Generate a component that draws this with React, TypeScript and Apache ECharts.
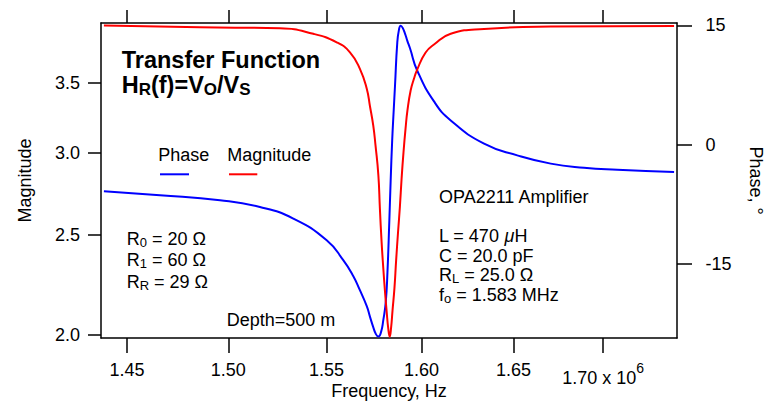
import { useEffect, useRef } from 'react';
import * as echarts from 'echarts';

// ---- data ----
const freqTicks = [1.45, 1.5, 1.55, 1.6, 1.65, 1.7]; // MHz
const magTicks = [2.0, 2.5, 3.0, 3.5];
const phaseTicks = [-15, 0, 15];

const freqMin = 1.4375;
const freqMax = 1.7426;
const magMin = 1.987;
const magMax = 4.0;
const phaseMin = -24.3;
const phaseMax = 15.3;

const magFreq = [
  1.4389, 1.4858, 1.5261, 1.5432, 1.5553, 1.5622, 1.5674, 1.571, 1.5727, 1.5744,
  1.5756, 1.5771, 1.5779, 1.5788, 1.5797, 1.5806, 1.5815, 1.5823, 1.5831, 1.5838,
  1.5846, 1.5856, 1.5865, 1.5875, 1.5885, 1.5894, 1.5904, 1.5915, 1.5925, 1.5942,
  1.596, 1.5977, 1.6022, 1.6067, 1.6157, 1.6338, 1.6706, 1.7409,
];
const magValues = [
  3.977, 3.962, 3.953, 3.905, 3.832, 3.748, 3.613, 3.456, 3.323, 3.186,
  3.048, 2.852, 2.65, 2.46, 2.32, 2.202, 2.105, 2.031, 1.993, 2.031,
  2.114, 2.22, 2.362, 2.513, 2.662, 2.833, 3.001, 3.165, 3.294, 3.443,
  3.536, 3.607, 3.746, 3.813, 3.905, 3.948, 3.968, 3.974,
];

const phaseFreq = [
  1.4389, 1.4661, 1.4958, 1.5159, 1.5329, 1.5501, 1.5587, 1.5639, 1.5674, 1.571,
  1.5727, 1.5744, 1.5758, 1.5771, 1.5785, 1.5797, 1.581, 1.5819, 1.5829, 1.5836,
  1.5844, 1.5852, 1.5859, 1.5871, 1.588, 1.5889, 1.5899, 1.5912, 1.5924, 1.5939,
  1.5977, 1.6067, 1.6157, 1.6338, 1.652, 1.6706, 1.6893, 1.7082, 1.7409,
];
const phaseValues = [
  -5.86, -6.36, -6.99, -7.83, -9.29, -12.01, -14.52, -16.5, -18.29, -20.3,
  -21.64, -22.93, -23.81, -24.12, -23.56, -22.05, -19.79, -16.02, -9.5, -4.48,
  0.54, 4.3, 7.44, 12.84, 14.47, 14.97, 14.72, 13.97, 13.09, 12.09,
  9.33, 5.44, 3.05, 0.13, -1.34, -2.38, -2.89, -3.14, -3.44,
];

const FONT = "'Liberation Sans', Arial, Helvetica, sans-serif";
const BLACK = '#000000';
const RED = '#ff0000';
const BLUE = '#0000ff';

function txt(x: number, y: number, text: string, extra: any = {}) {
  return {
    type: 'text',
    x,
    y,
    silent: true,
    style: {
      text,
      fill: BLACK,
      fontSize: 18,
      fontFamily: FONT,
      lineHeight: 20,
      align: 'left',
      verticalAlign: 'middle',
      ...extra,
    },
  };
}

const subRich = {
  s: { fontSize: 13, lineHeight: 11.5, verticalAlign: 'bottom', fontFamily: FONT, fill: BLACK },
  i: { fontSize: 18, lineHeight: 20, fontStyle: 'italic', fontFamily: FONT, fill: BLACK },
};

const titleRich = {
  s: { fontSize: 17, lineHeight: 13.8, verticalAlign: 'bottom', fontWeight: 'bold', fontFamily: FONT, fill: BLACK },
};

export default function App() {
  const ref = useRef<HTMLDivElement>(null);

  useEffect(() => {
    document.body.style.margin = '0';
    const chart = echarts.init(ref.current!, null, { renderer: 'svg' });

    const axisLine = { show: true, onZero: false, lineStyle: { color: BLACK, width: 1.5 } };
    const labelBase = { color: BLACK, fontSize: 18, fontFamily: FONT, lineHeight: 18 };

    const option: any = {
      animation: false,
      backgroundColor: '#ffffff',
      grid: { left: 101, right: 91, top: 23, bottom: 67, containLabel: false, outerBoundsMode: 'none' },
      xAxis: [
        {
          type: 'log',
          position: 'bottom',
          min: freqMin,
          max: freqMax,
          axisLine,
          axisTick: { show: true, length: 15, inside: false, lineStyle: { color: BLACK, width: 1.5 }, customValues: freqTicks },
          minorTick: { show: false },
          splitLine: { show: false },
          axisLabel: {
            ...labelBase,
            margin: 22.5,
            customValues: freqTicks,
            formatter: (v: number) =>
              Math.abs(v - 1.7) < 1e-6 ? '{g| }{m|1.70 x 10}{p|6}' : v.toFixed(2),
            rich: {
              g: { fontSize: 1, lineHeight: 26 },
              m: { fontSize: 18, lineHeight: 18, verticalAlign: 'bottom', fontFamily: FONT, color: BLACK },
              p: { fontSize: 14, lineHeight: 14, verticalAlign: 'top', fontFamily: FONT, color: BLACK },
            },
          },
          name: 'Frequency, Hz',
          nameLocation: 'middle',
          nameGap: 44,
          nameMoveOverlap: false,
          nameTextStyle: { ...labelBase },
        },
        {
          type: 'log',
          position: 'top',
          min: freqMin,
          max: freqMax,
          axisLine,
          axisTick: { show: true, length: 13, inside: false, lineStyle: { color: BLACK, width: 1.5 }, customValues: freqTicks },
          minorTick: { show: false },
          splitLine: { show: false },
          axisLabel: { show: false },
        },
      ],
      yAxis: [
        {
          type: 'log',
          position: 'left',
          min: magMin,
          max: magMax,
          axisLine,
          axisTick: { show: true, length: 13, inside: false, lineStyle: { color: BLACK, width: 1.5 }, customValues: magTicks },
          minorTick: { show: false },
          splitLine: { show: false },
          axisLabel: {
            ...labelBase,
            margin: 21,
            customValues: magTicks,
            formatter: (v: number) => v.toFixed(1),
          },
          name: 'Magnitude',
          nameLocation: 'middle',
          nameGap: 67,
          nameRotate: 90,
          nameMoveOverlap: false,
          nameTextStyle: { ...labelBase },
        },
        {
          type: 'value',
          position: 'right',
          min: phaseMin,
          max: phaseMax,
          axisLine,
          axisTick: { show: true, length: 15, inside: false, lineStyle: { color: BLACK, width: 1.5 }, customValues: phaseTicks },
          minorTick: { show: false },
          splitLine: { show: false },
          axisLabel: {
            ...labelBase,
            margin: 28.5,
            customValues: phaseTicks,
            formatter: (v: number) => String(Math.round(v)),
          },
          name: 'Phase, °',
          nameLocation: 'middle',
          nameGap: 70,
          nameRotate: -90,
          nameMoveOverlap: false,
          nameTextStyle: { ...labelBase },
        },
      ],
      series: [
        {
          type: 'line',
          name: 'Phase',
          xAxisIndex: 0,
          yAxisIndex: 1,
          data: phaseFreq.map((f, i) => [f, phaseValues[i]]),
          symbol: 'none',
          showSymbol: false,
          smooth: 0.5,
          clip: true,
          lineStyle: { color: BLUE, width: 2 },
          z: 2,
        },
        {
          type: 'line',
          name: 'Magnitude',
          xAxisIndex: 0,
          yAxisIndex: 0,
          data: magFreq.map((f, i) => [f, magValues[i]]),
          symbol: 'none',
          showSymbol: false,
          smooth: 0.5,
          clip: true,
          lineStyle: { color: RED, width: 2 },
          z: 3,
        },
      ],
      graphic: [
        txt(121.7, 60, 'Transfer Function', { fontSize: 23.5, fontWeight: 'bold', lineHeight: 26 }),
        txt(121.7, 85.3, 'H{s|R}(f)=V{s|O}/V{s|S}', {
          fontSize: 23.5,
          fontWeight: 'bold',
          lineHeight: 26,
          rich: titleRich,
        }),
        txt(158.3, 154.7, 'Phase'),
        txt(227.3, 154.7, 'Magnitude'),
        { type: 'line', silent: true, shape: { x1: 160, y1: 174.3, x2: 189, y2: 174.3 }, style: { stroke: BLUE, lineWidth: 2 } },
        { type: 'line', silent: true, shape: { x1: 229, y1: 174.3, x2: 257.3, y2: 174.3 }, style: { stroke: RED, lineWidth: 2 } },
        txt(126.7, 238.7, 'R{s|0} = 20 Ω', { rich: subRich }),
        txt(126.7, 260.4, 'R{s|1} = 60 Ω', { rich: subRich }),
        txt(126.7, 282, 'R{s|R} = 29 Ω', { rich: subRich }),
        txt(226.7, 319.7, 'Depth=500 m'),
        txt(439, 196.7, 'OPA2211 Amplifier'),
        txt(439, 236.4, 'L = 470 {i|μ}H', { rich: subRich }),
        txt(439, 256.4, 'C = 20.0 pF'),
        txt(439, 275.2, 'R{s|L} = 25.0 Ω', { rich: subRich }),
        txt(439, 295.4, 'f{s|o} = 1.583 MHz', { rich: subRich }),
      ],
    };

    chart.setOption(option);
    return () => chart.dispose();
  }, []);

  return (
    <div
      ref={ref}
      style={{ position: 'fixed', left: 0, top: 0, width: 768, height: 405, background: '#ffffff' }}
    />
  );
}
